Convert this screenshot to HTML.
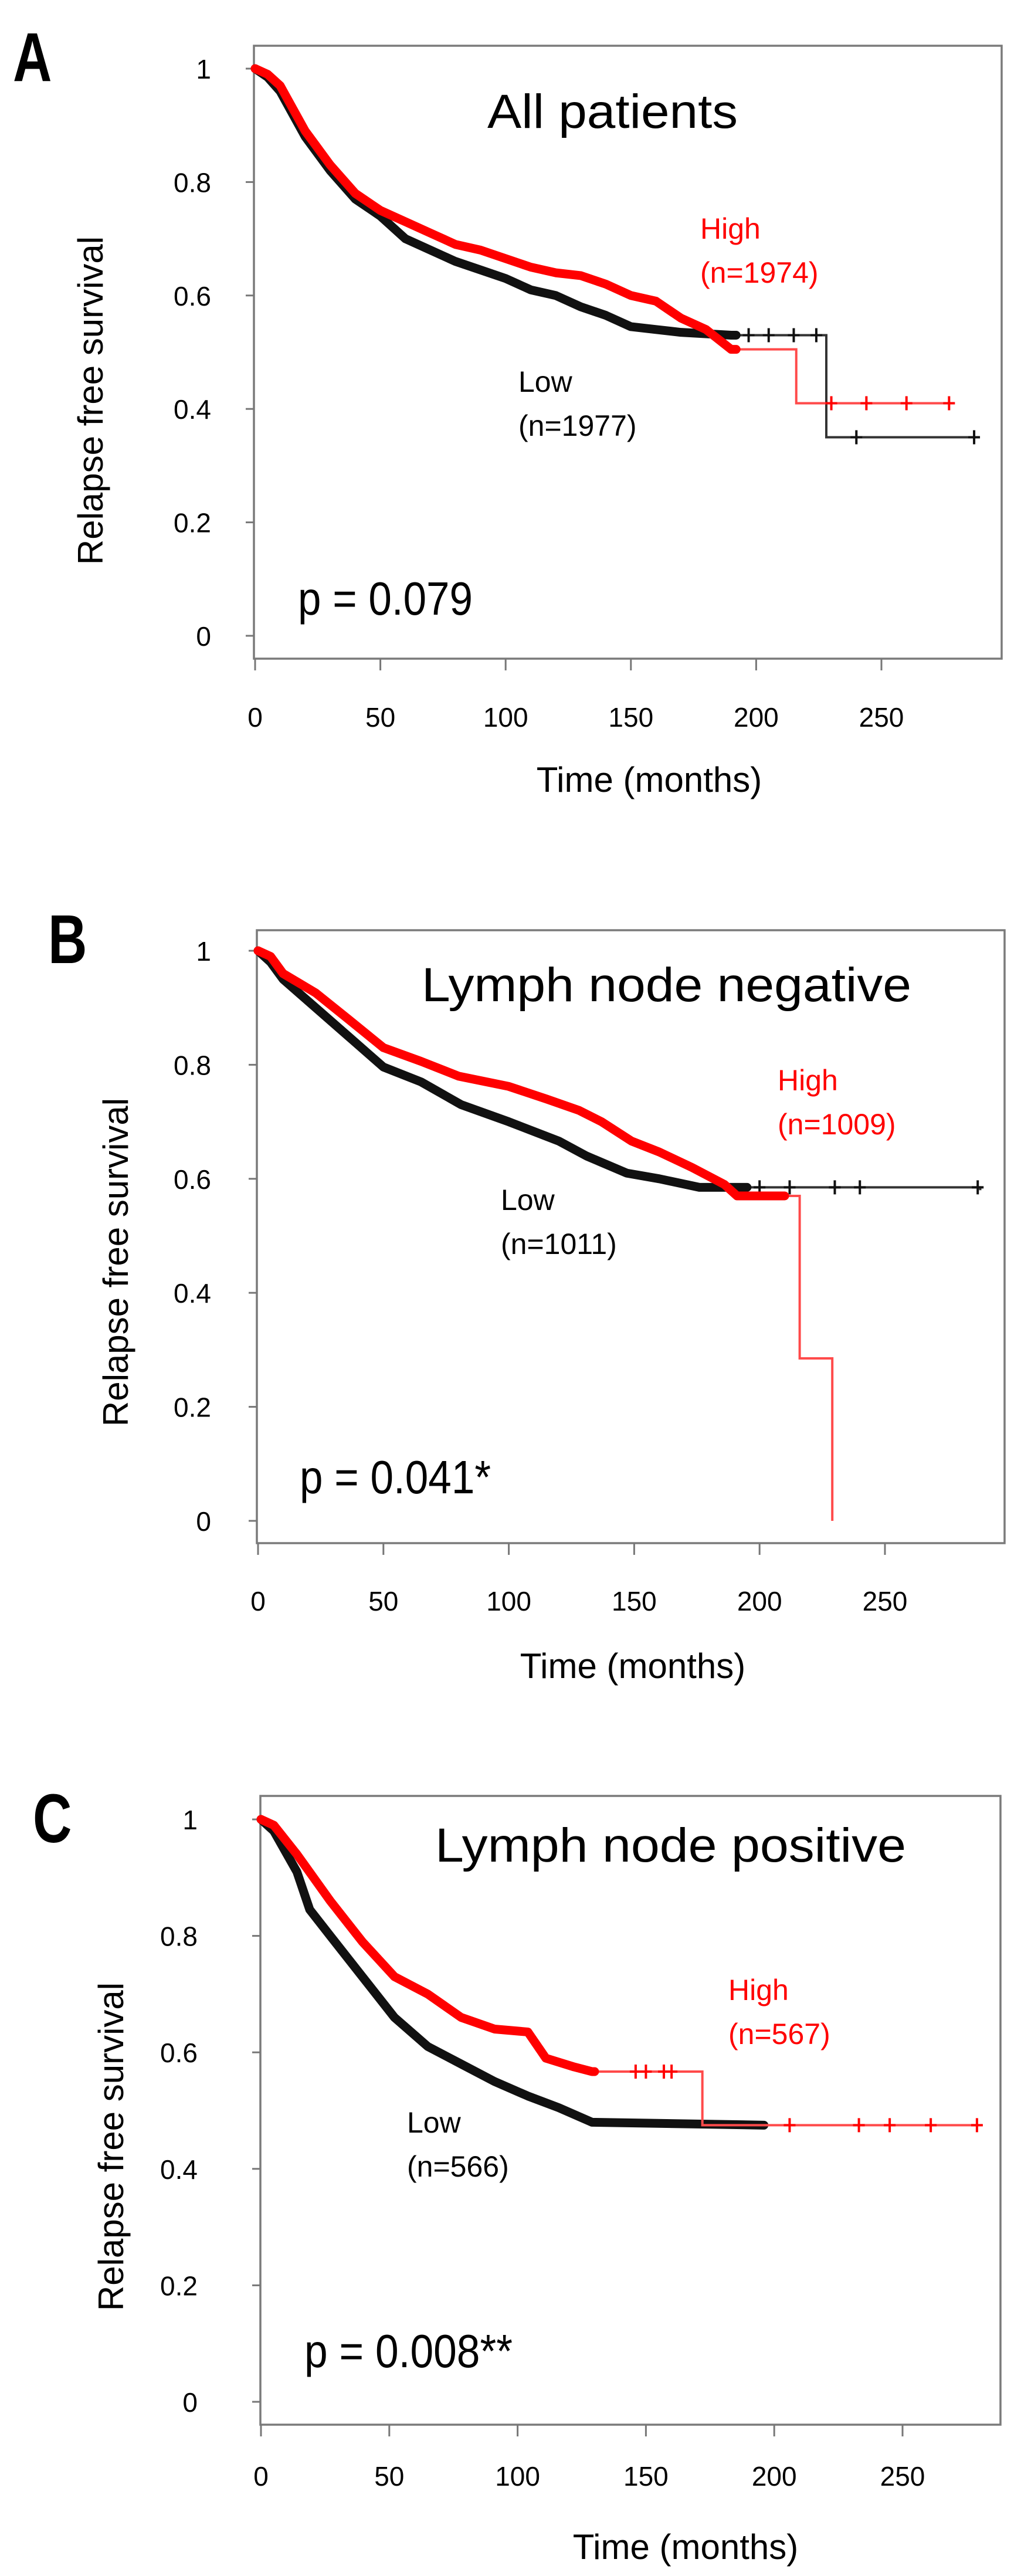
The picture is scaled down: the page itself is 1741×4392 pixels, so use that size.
<!DOCTYPE html>
<html><head><meta charset="utf-8"><style>
html,body{margin:0;padding:0;background:#fff}
svg{display:block}
text{font-family:"Liberation Sans",Arial,sans-serif}
</style></head><body>
<svg id="fig" width="1741" height="4392" viewBox="0 0 1741 4392" xmlns="http://www.w3.org/2000/svg"></svg>
<script>
// ---------- data (months, survival) ----------
const yTicks = [0, 0.2, 0.4, 0.6, 0.8, 1];
const yTickLabels = ["0", "0.2", "0.4", "0.6", "0.8", "1"];
const xTicks = [0, 50, 100, 150, 200, 250];
const xTickLabels = ["0", "50", "100", "150", "200", "250"];

const aHighT = [0,5,10,15,20,25,30,40,50,60,70,80,90,100,110,120,130,140,150,160,170,180,190,216,278];
const aHighS = [1,0.99,0.97,0.93,0.89,0.86,0.83,0.78,0.75,0.73,0.71,0.69,0.68,0.665,0.65,0.64,0.635,0.62,0.60,0.59,0.56,0.54,0.505,0.41,0.41];
const aLowT = [0,5,10,20,30,40,50,60,70,80,90,100,110,120,130,140,150,160,170,190,228,288];
const aLowS = [1,0.985,0.96,0.88,0.82,0.77,0.74,0.70,0.68,0.66,0.645,0.63,0.61,0.60,0.58,0.565,0.545,0.54,0.535,0.53,0.35,0.35];
const aHighCens = [230,244,260,277];
const aLowCens = [197,205,215,224,240,287];

const bHighT = [0,5,10,23,36,50,65,80,100,115,128,137,149,160,173,186,191,216,229];
const bHighS = [1,0.99,0.96,0.926,0.88,0.83,0.806,0.78,0.762,0.74,0.72,0.70,0.666,0.647,0.62,0.59,0.57,0.285,0];
const bLowT = [0,5,10,23,36,50,65,81,100,120,131,147,160,176,288];
const bLowS = [1,0.98,0.95,0.90,0.85,0.796,0.77,0.73,0.70,0.666,0.64,0.61,0.60,0.585,0.58];
const bHighCens = [];
const bLowCens = [200,212,230,240,287];

const cHighT = [0,5,14,27,39.5,52,65,78,91,104,111,122,129,172,279];
const cHighS = [1,0.99,0.94,0.86,0.79,0.73,0.70,0.66,0.64,0.635,0.59,0.575,0.567,0.475,0.475];
const cLowT = [0,5,14,19,27,39.5,52,65,78,91,104,116,129,196];
const cLowS = [1,0.98,0.91,0.845,0.80,0.73,0.66,0.61,0.58,0.55,0.525,0.505,0.48,0.475];
const cHighCens = [146,150,157,160,206,233,245,261,279];
const cLowCens = [];

// ---------- rendering ----------
const NS = "http://www.w3.org/2000/svg";
const svg = document.getElementById("fig");
function el(tag, attrs, parent) {
  const e = document.createElementNS(NS, tag);
  for (const k in attrs) e.setAttribute(k, attrs[k]);
  (parent || svg).appendChild(e);
  return e;
}
function txt(s, attrs, parent) { const t = el("text", attrs, parent); t.textContent = s; return t; }

// dense region (many events) drawn as smooth line; sparse tail as steps
function curvePath(T, S, sx, sy, dense, maxT) {
  let d = "M" + sx(T[0]) + "," + sy(S[0]);
  for (let i = 1; i < T.length; i++) {
    if (maxT !== undefined && T[i] > maxT) { d += " H" + sx(maxT); break; }
    if (T[i] <= dense) d += " L" + sx(T[i]) + "," + sy(S[i]);
    else d += " H" + sx(T[i]) + " V" + sy(S[i]);
  }
  return d;
}
function survAt(T, S, t) { let s = S[0]; for (let i = 0; i < T.length; i++) { if (T[i] <= t) s = S[i]; } return s; }

function panel(p) {
  const g = el("g", {});
  
  
  const sx = t => p.x0 + t * p.ppm;
  const sy = v => p.y0 - v * (p.y0 - p.y1);

  const letter = txt(p.letter, {x: 0, y: 0, "font-size": 118, "font-weight": "bold", transform: `translate(${p.lx},${p.ly}) scale(0.78,1)`, fill: "#000"}, g);
  
  

  const frame = el("rect", {x: p.L, y: p.T, width: p.R - p.L, height: p.B - p.T, fill: "none", stroke: "#7a7a7a", "stroke-width": 3.5}, g);
  
  

  yTicks.forEach((v, i) => {
    const tk = el("line", {x1: p.L - 14, x2: p.L, y1: sy(v), y2: sy(v), stroke: "#777", "stroke-width": 3}, g);
    
    
    const lb = txt(yTickLabels[i], {x: p.yLabR, y: sy(v) + 17, "font-size": 46, "text-anchor": "end", fill: "#000"}, g);
    
    
  });
  xTicks.forEach((v, i) => {
    const tk = el("line", {x1: sx(v), x2: sx(v), y1: p.B, y2: p.B + 20, stroke: "#777", "stroke-width": 3}, g);
    
    
    const lb = txt(xTickLabels[i], {x: sx(v), y: p.xLabY, "font-size": 46, "text-anchor": "middle", fill: "#000"}, g);
    
    
  });

  const yt = txt("Relapse free survival", {x: 0, y: 0, "font-size": 60, "text-anchor": "middle", transform: `translate(${p.ytx},${p.yty}) rotate(-90)`, fill: "#000"}, g);
  
  
  const xt = txt("Time (months)", {x: p.xtx, y: p.xty, "font-size": 60, "text-anchor": "middle", fill: "#000"}, g);
  
  

  const title = txt(p.title, {x: p.tx, y: p.ty, "font-size": 82, textLength: p.tw, lengthAdjust: "spacingAndGlyphs", fill: "#000"}, g);
  
  

  const series = [
    {T: p.lowT, S: p.lowS, cens: p.lowCens, dense: p.lowDense, col: "#111", thin: "#333", name: "low-curve"},
    {T: p.highT, S: p.highS, cens: p.highCens, dense: p.highDense, col: "#ff0000", thin: "#ff4a4a", name: "high-curve"}
  ];
  series.forEach(s => {
    const thin = el("path", {d: curvePath(s.T, s.S, sx, sy, s.dense), fill: "none", stroke: s.thin, "stroke-width": 4}, g);
    
    
    const thick = el("path", {d: curvePath(s.T, s.S, sx, sy, s.dense, s.dense), fill: "none", stroke: s.col, "stroke-width": 15, "stroke-linejoin": "round", "stroke-linecap": "round"}, g);
    
    
    s.cens.forEach(t => {
      const y = sy(survAt(s.T, s.S, t)), x = sx(t);
      const c = el("path", {d: `M${x - 10},${y} H${x + 10} M${x},${y - 12} V${y + 12}`, stroke: s.col, "stroke-width": 4, fill: "none"}, g);
      
      
    });
  });

  const hi1 = txt("High", {x: p.hx, y: p.hy, "font-size": 50, fill: "#ff0000"}, g);
  
  
  const hi2 = txt(p.hn, {x: p.hx, y: p.hy + 75, "font-size": 50, fill: "#ff0000"}, g);
  
  
  const lo1 = txt("Low", {x: p.lowx, y: p.lowy, "font-size": 50, fill: "#000"}, g);
  
  
  const lo2 = txt(p.ln, {x: p.lowx, y: p.lowy + 75, "font-size": 50, fill: "#000"}, g);
  
  

  const pv = txt(p.pval, {x: p.px, y: p.py, "font-size": 80, textLength: p.pw, lengthAdjust: "spacingAndGlyphs", fill: "#000"}, g);
  
  
}

panel({name: "panel-a-all-patients", letter: "A", lx: 22, ly: 138,
  L: 433, T: 78, R: 1708, B: 1123, x0: 435, ppm: 4.272, y1: 117, y0: 1084,
  yLabR: 360, xLabY: 1239, ytx: 175, yty: 683, xtx: 1107, xty: 1350,
  title: "All patients", tx: 831, ty: 218, tw: 427,
  highT: aHighT, highS: aHighS, highCens: aHighCens, highDense: 192,
  lowT: aLowT, lowS: aLowS, lowCens: aLowCens, lowDense: 192,
  hx: 1194, hy: 407, hn: "(n=1974)", lowx: 884, lowy: 668, ln: "(n=1977)",
  pval: "p = 0.079", px: 508, py: 1048, pw: 298});

panel({name: "panel-b-node-negative", letter: "B", lx: 82, ly: 1642,
  L: 438, T: 1586, R: 1713, B: 2631, x0: 440, ppm: 4.276, y1: 1621, y0: 2593,
  yLabR: 360, xLabY: 2746, ytx: 218, yty: 2152, xtx: 1079, xty: 2861,
  title: "Lymph node negative", tx: 719, ty: 1707, tw: 835,
  highT: bHighT, highS: bHighS, highCens: bHighCens, highDense: 210,
  lowT: bLowT, lowS: bLowS, lowCens: bLowCens, lowDense: 195,
  hx: 1326, hy: 1859, hn: "(n=1009)", lowx: 854, lowy: 2063, ln: "(n=1011)",
  pval: "p = 0.041*", px: 511, py: 2546, pw: 326});

panel({name: "panel-c-node-positive", letter: "C", lx: 56, ly: 3141,
  L: 444, T: 3062, R: 1706, B: 4134, x0: 445, ppm: 4.376, y1: 3102, y0: 4095,
  yLabR: 337, xLabY: 4238, ytx: 210, yty: 3660, xtx: 1169, xty: 4363,
  title: "Lymph node positive", tx: 742, ty: 3174, tw: 803,
  highT: cHighT, highS: cHighS, highCens: cHighCens, highDense: 130,
  lowT: cLowT, lowS: cLowS, lowCens: cLowCens, lowDense: 196,
  hx: 1242, hy: 3410, hn: "(n=567)", lowx: 694, lowy: 3636, ln: "(n=566)",
  pval: "p = 0.008**", px: 519, py: 4036, pw: 355});
</script>
</body></html>
